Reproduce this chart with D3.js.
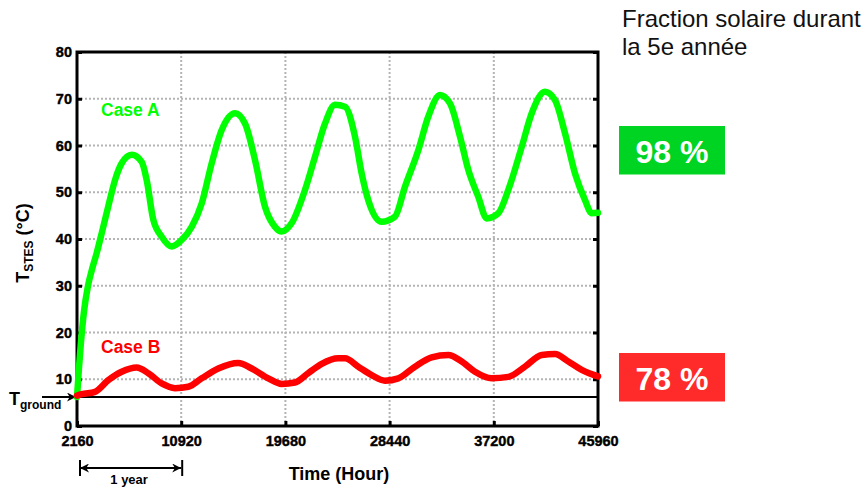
<!DOCTYPE html>
<html>
<head>
<meta charset="utf-8">
<script src="https://cdn.jsdelivr.net/npm/d3@7"></script>
<style>
  html, body { margin: 0; padding: 0; background: #fff; }
  svg { display: block; font-family: "Liberation Sans", Arial, sans-serif; }
</style>
</head>
<body>
<svg id="chart" width="864" height="488"></svg>
<script>
// Storage temperature over five years of simulation (hours since start)
const hoursA = [2160, 2328, 2496, 2748, 3085, 3421, 3816, 4262, 4791, 5355, 5918, 6759, 7599, 8020, 8574, 9281,
  10121, 10962, 11803, 12643, 13484, 14325, 15443, 16284, 17124, 17965, 18806, 19369, 20210, 21327, 22168,
  23009, 23850, 24691, 25531, 26094, 26649, 27776, 28894, 29735, 30853, 31694, 32678, 33518, 34359, 35057,
  35898, 36604, 37579, 38420, 39547, 40388, 41506, 42347, 43188, 44028, 44869, 45432, 45960];
const tempA = [6.2, 12.5, 18, 24.5, 30, 33.5, 37, 41.5, 47, 52.6, 56.2, 58, 56.5, 52.6, 44.1, 40.5,
  38.4, 39.8, 42.6, 47.6, 56.2, 63.3, 66.9, 64.7, 56.9, 46.9, 42.6, 41.6, 43.4, 50.5, 57.6,
  64.7, 68.7, 68.3, 61.9, 54, 48.3, 43.7, 44.8, 51.2, 59, 66.2, 70.8, 69, 61.9, 54.8,
  49, 44.4, 45.5, 50.5, 59.7, 66.9, 71.5, 69.7, 62.6, 54, 48.3, 45.5, 45.6];

const hoursB = [2160, 2555, 3673, 4791, 5918, 7179, 8154, 9281, 10399, 11517, 12643, 14039, 15720, 16847,
  18242, 19369, 20487, 21605, 22732, 24127, 24691, 25809, 26936, 28054, 29172, 30576, 31980, 33375,
  34502, 35620, 37024, 38420, 39824, 41228, 42347, 43465, 44592, 45960];
const tempB = [6.5, 6.8, 7.3, 9.8, 11.6, 12.5, 11.3, 9.1, 8.1, 8.4, 10.2, 12.3, 13.5, 12.3,
  10.2, 9.0, 9.3, 11.3, 13.3, 14.5, 14.5, 12.7, 10.9, 9.7, 10.2, 12.7, 14.7, 15.2,
  13.8, 11.6, 10.2, 10.5, 12.7, 15.2, 15.4, 13.8, 12.0, 10.6];

const xTicks = [2160, 10920, 19680, 28440, 37200, 45960];
const yTicks = [0, 10, 20, 30, 40, 50, 60, 70, 80];
const tGround = 6.2;
const caseNames = ["Case A", "Case B"];
const caseColors = ["#00ff00", "#ff0000"];
const fractionLabels = ["98 %", "78 %"];
const fractionColors = ["#00d423", "#ff2a2a"];

const svg = d3.select("#chart");

const x = d3.scaleLinear().domain([2160, 45960]).range([77, 598]);
const y = d3.scaleLinear().domain([0, 80]).range([426, 52]);

const plot = svg.append("g");

// dotted grid
plot.append("g").selectAll("line.h")
  .data(yTicks.slice(1, -1)).join("line")
  .attr("x1", x.range()[0]).attr("x2", x.range()[1])
  .attr("y1", d => y(d)).attr("y2", d => y(d))
  .attr("stroke", "#b4b4b4").attr("stroke-width", 2).attr("stroke-dasharray", "2,2");
plot.append("g").selectAll("line.v")
  .data(xTicks.slice(1, -1)).join("line")
  .attr("y1", y.range()[0]).attr("y2", y.range()[1])
  .attr("x1", d => x(d)).attr("x2", d => x(d))
  .attr("stroke", "#b4b4b4").attr("stroke-width", 2).attr("stroke-dasharray", "2,2");

// axes with inward ticks
const axisStyle = g => {
  g.select(".domain").remove();
  g.selectAll(".tick line").attr("stroke", "#000").attr("stroke-width", 3);
  g.selectAll(".tick text").attr("font-weight", "bold").attr("font-size", 14.5)
    .attr("fill", "#000").attr("stroke", "#000").attr("stroke-width", 0.4);
};
plot.append("g").attr("transform", `translate(${x.range()[0]},0)`)
  .call(d3.axisLeft(y).tickValues(yTicks).tickSize(-5).tickPadding(5).tickFormat(d3.format("d")))
  .call(axisStyle);
plot.append("g").attr("transform", `translate(${x.range()[1]},0)`)
  .call(d3.axisRight(y).tickValues(yTicks).tickSize(-5).tickFormat(""))
  .call(axisStyle);
plot.append("g").attr("transform", `translate(0,${y.range()[0]})`)
  .call(d3.axisBottom(x).tickValues(xTicks).tickSize(-5).tickPadding(10).tickFormat(d3.format("d")))
  .call(axisStyle);

// frame
plot.append("rect")
  .attr("x", x.range()[0]).attr("y", y.range()[1])
  .attr("width", x.range()[1] - x.range()[0]).attr("height", y.range()[0] - y.range()[1])
  .attr("fill", "none").attr("stroke", "#000").attr("stroke-width", 3);

// ground temperature reference
plot.append("line")
  .attr("x1", x.range()[0]).attr("x2", x.range()[1])
  .attr("y1", y(tGround)).attr("y2", y(tGround))
  .attr("stroke", "#000").attr("stroke-width", 2);

const defs = svg.append("defs");
defs.append("marker").attr("id", "arr").attr("viewBox", "0 0 10 10")
  .attr("refX", 10).attr("refY", 5).attr("markerWidth", 9).attr("markerHeight", 9)
  .attr("markerUnits", "userSpaceOnUse").attr("orient", "auto-start-reverse")
  .append("path").attr("d", "M0,0 L10,5 L0,10 L3,5 Z").attr("fill", "#000");

plot.append("line")
  .attr("x1", 42).attr("x2", x.range()[0] - 1)
  .attr("y1", y(tGround)).attr("y2", y(tGround))
  .attr("stroke", "#000").attr("stroke-width", 2).attr("marker-end", "url(#arr)");
const tg = plot.append("text").attr("x", 9).attr("y", y(tGround) + 8)
  .attr("font-weight", "bold").attr("font-size", 18);
tg.append("tspan").text("T");
tg.append("tspan").attr("font-size", 12).attr("dy", 4).text("ground");

// temperature curves
const line = d3.line().x(d => x(d[0])).y(d => y(d[1])).curve(d3.curveMonotoneX);
const series = [d3.zip(hoursA, tempA), d3.zip(hoursB, tempB)];
plot.append("g").selectAll("path").data(series).join("path")
  .attr("d", line)
  .attr("fill", "none")
  .attr("stroke", (d, i) => caseColors[i])
  .attr("stroke-width", 6.5)
  .attr("stroke-linejoin", "round").attr("stroke-linecap", "round");

// case labels
plot.append("text").attr("x", 101).attr("y", 116).attr("fill", caseColors[0])
  .attr("font-weight", "bold").attr("font-size", 17.5).text(caseNames[0]);
plot.append("text").attr("x", 101).attr("y", 353).attr("fill", caseColors[1])
  .attr("font-weight", "bold").attr("font-size", 17.5).text(caseNames[1]);

// axis titles
const yt = plot.append("text").attr("transform", "translate(29,243) rotate(-90)")
  .attr("text-anchor", "middle").attr("font-weight", "bold").attr("font-size", 18);
yt.append("tspan").text("T");
yt.append("tspan").attr("font-size", 12).attr("dy", 4).text("STES");
yt.append("tspan").attr("dy", -4).text(" (°C)");

plot.append("text").attr("x", 339).attr("y", 480).attr("text-anchor", "middle")
  .attr("font-weight", "bold").attr("font-size", 18).text("Time (Hour)");

// one-year span marker
const yr = 468;
plot.append("line").attr("x1", x(xTicks[0]) + 3).attr("x2", x(xTicks[1]))
  .attr("y1", yr).attr("y2", yr).attr("stroke", "#000").attr("stroke-width", 2)
  .attr("marker-start", "url(#arr)").attr("marker-end", "url(#arr)");
[xTicks[0], xTicks[1]].forEach((t, i) => {
  plot.append("line").attr("x1", x(t) + (i ? 1 : 3)).attr("x2", x(t) + (i ? 1 : 3))
    .attr("y1", yr - 8).attr("y2", yr + 8).attr("stroke", "#000").attr("stroke-width", 2);
});
plot.append("text").attr("x", (x(xTicks[0]) + x(xTicks[1])) / 2).attr("y", 484)
  .attr("text-anchor", "middle").attr("font-weight", "bold").attr("font-size", 13).text("1 year");

// solar fraction annotation
const note = svg.append("g");
note.append("text").attr("x", 622).attr("y", 27).attr("font-size", 24).attr("fill", "#111")
  .text("Fraction solaire durant");
note.append("text").attr("x", 622).attr("y", 55).attr("font-size", 24).attr("fill", "#111")
  .text("la 5e année");

const boxes = [{ y0: 126, y1: 174.5, base: 163 }, { y0: 353, y1: 401.5, base: 390 }];
boxes.forEach((b, i) => {
  note.append("rect").attr("x", 619).attr("y", b.y0).attr("width", 106).attr("height", b.y1 - b.y0)
    .attr("fill", fractionColors[i]);
  note.append("text").attr("x", 672).attr("y", b.base).attr("text-anchor", "middle")
    .attr("fill", "#fff").attr("font-weight", "bold").attr("font-size", 32).text(fractionLabels[i]);
});
</script>
</body>
</html>
